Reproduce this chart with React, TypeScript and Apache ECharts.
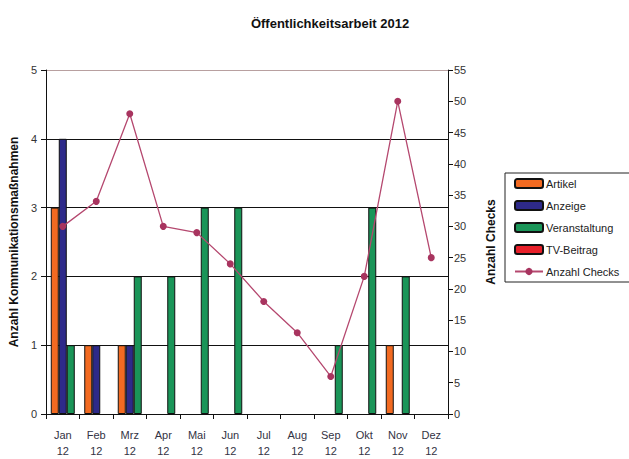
import React, { useEffect, useRef } from "react";
import * as echarts from "echarts";

const categories = ["Jan\n12", "Feb\n12", "Mrz\n12", "Apr\n12", "Mai\n12", "Jun\n12", "Jul\n12", "Aug\n12", "Sep\n12", "Okt\n12", "Nov\n12", "Dez\n12"];
const artikel = [3, 1, 1, 0, 0, 0, 0, 0, 0, 0, 1, 0];
const anzeige = [4, 1, 1, 0, 0, 0, 0, 0, 0, 0, 0, 0];
const veranstaltung = [1, 0, 2, 2, 3, 3, 0, 0, 1, 3, 2, 0];
const tvBeitrag = [0, 0, 0, 0, 0, 0, 0, 0, 0, 0, 0, 0];
const anzahlChecks = [30, 34, 48, 30, 29, 24, 18, 13, 6, 22, 50, 25];

const FONT = "Liberation Sans, Arial, sans-serif";

export default function App() {
  const ref = useRef<HTMLDivElement>(null);
  useEffect(() => {
    if (!ref.current) return;
    const chart = echarts.init(ref.current, null, { renderer: "svg" });
    const barBase = (name: string, data: number[], color: string) => ({
      name,
      type: "bar",
      data: data.map((v) => (v === 0 ? null : v)),
      barGap: "0%",
      barWidth: 8,
      itemStyle: { color, borderColor: "#111", borderWidth: 1 },
    });
    chart.setOption({
      animation: false,
      textStyle: { fontFamily: FONT },
      title: {
        text: "Öffentlichkeitsarbeit 2012",
        left: 325,
        textAlign: "center",
        top: 12,
        textStyle: { fontFamily: FONT, fontSize: 13, fontWeight: "bold", color: "#111" },
      },
      legend: {
        orient: "vertical",
        left: 505,
        top: 173,
        padding: [5, 20, 5, 9],
        itemGap: 11,
        itemWidth: 28,
        itemHeight: 9,
        borderColor: "#222",
        borderWidth: 1,
        textStyle: { fontFamily: FONT, fontSize: 11, color: "#222", padding: [0, 0, 0, -2] },
        data: ["Artikel", "Anzeige", "Veranstaltung", "TV-Beitrag", "Anzahl Checks"],
      },
      grid: { left: 45, right: 181, top: 70, bottom: 44 },
      xAxis: [
        {
          type: "category",
          data: categories,
          axisLine: { lineStyle: { color: "#111", width: 1 } },
          axisTick: { show: true, interval: 0, length: 5, lineStyle: { color: "#111" } },
          axisLabel: { interval: 0, fontSize: 11, color: "#334", lineHeight: 16, margin: 13, fontFamily: FONT },
        },
        { type: "category", data: categories, show: false },
      ],
      yAxis: [
        {
          type: "value",
          min: 0,
          max: 5,
          interval: 1,
          name: "Anzahl Kommunikationsmaßnahmen",
          nameLocation: "middle",
          nameGap: 26,
          nameTextStyle: { fontFamily: FONT, fontSize: 12, fontWeight: "bold", color: "#111" },
          axisLine: { show: true, lineStyle: { color: "#111" } },
          axisTick: { show: true, length: 5, lineStyle: { color: "#111" } },
          axisLabel: { fontSize: 11, color: "#333", margin: 9 },
          splitLine: { show: true, lineStyle: { color: ["#111", "#111", "#111", "#111", "#111", "#b8a0a0"], width: 1.2 } },
        },
        {
          type: "value",
          min: 0,
          max: 55,
          interval: 5,
          name: "Anzahl Checks",
          nameLocation: "middle",
          nameGap: 37,
          nameRotate: 90,
          nameTextStyle: { fontFamily: FONT, fontSize: 12, fontWeight: "bold", color: "#111" },
          axisLine: { show: true, lineStyle: { color: "#111" } },
          axisTick: { show: true, length: 5, lineStyle: { color: "#111" } },
          axisLabel: { fontSize: 11, color: "#333", margin: 6 },
          splitLine: { show: false },
        },
      ],
      series: [
        barBase("Artikel", artikel, "#f26a21"),
        barBase("Anzeige", anzeige, "#2e2a8a"),
        barBase("Veranstaltung", veranstaltung, "#1a9558"),
        {
          name: "TV-Beitrag",
          type: "bar",
          xAxisIndex: 1,
          data: tvBeitrag.map((v) => (v === 0 ? null : v)),
          itemStyle: { color: "#e8202a", borderColor: "#111", borderWidth: 1 },
        },
        {
          name: "Anzahl Checks",
          type: "line",
          yAxisIndex: 1,
          data: anzahlChecks,
          symbol: "circle",
          symbolSize: 7,
          lineStyle: { color: "#b5486f", width: 1.3 },
          itemStyle: { color: "#a8345f" },
        },
      ],
    });
    return () => chart.dispose();
  }, []);
  return <div ref={ref} style={{ width: 629, height: 459, position: "absolute", left: 0, top: 0 }} />;
}
